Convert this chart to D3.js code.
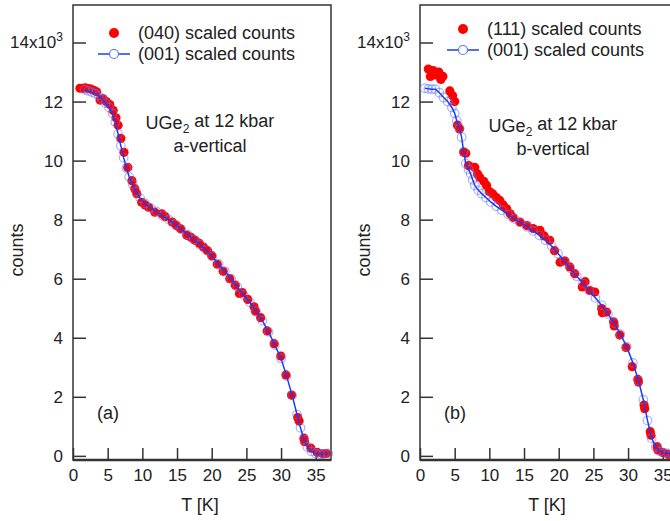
<!DOCTYPE html>
<html>
<head>
<meta charset="utf-8">
<script src="https://cdn.jsdelivr.net/npm/d3@7"></script>
<style>
  body { margin: 0; background: #fff; }
  text { font-family: "Liberation Sans", Arial, Helvetica, sans-serif; fill: #222; }
</style>
</head>
<body>
<svg id="chart" width="670" height="521"></svg>
<script>
// panel (a): (040) and (001), counts in units of 1000
const redA_T = [1.0, 1.4, 1.8, 2.2, 2.6, 3.0, 3.4, 3.9, 4.3, 4.8, 5.3, 5.8, 6.2, 6.5, 6.9, 7.35, 7.9, 8.5, 8.9, 9.2, 9.9, 10.4, 10.9, 11.8, 12.8, 13.3, 14.3, 14.9, 15.5, 16.4, 17.0, 17.6, 18.2, 18.8, 19.4, 20.0, 20.8, 21.65, 22.6, 23.4, 24.0, 24.4, 25.2, 26.1, 26.3, 27.06, 28.0, 29.0, 29.96, 30.7, 31.5, 32.4, 32.6, 33.3, 33.4, 34.3, 35.2, 36.0, 36.5]
const redA_C = [12.45, 12.45, 12.46, 12.44, 12.42, 12.38, 12.33, 12.05, 12.1, 12.0, 11.9, 11.7, 11.45, 11.2, 10.75, 10.28, 9.77, 9.32, 9.05, 8.88, 8.59, 8.5, 8.42, 8.25, 8.2, 8.1, 7.92, 7.8, 7.69, 7.47, 7.4, 7.3, 7.2, 7.07, 6.95, 6.78, 6.49, 6.25, 6.0, 5.78, 5.5, 5.53, 5.3, 5.05, 4.9, 4.68, 4.23, 3.8, 3.38, 2.74, 2.06, 1.3, 1.18, 0.6, 0.48, 0.26, 0.12, 0.07, 0.08]
const blueA_T = [1.7, 2.2, 2.7, 3.2, 3.7, 4.2, 4.7, 5.2, 5.7, 6.1, 6.5, 6.9, 7.3, 7.7, 8.1, 8.6, 9.1, 9.7, 10.4, 11.2, 12.0, 12.9, 13.8, 14.7, 15.6, 16.5, 17.4, 18.3, 19.2, 20.1, 21.0, 21.9, 22.8, 23.7, 24.6, 25.5, 26.4, 27.3, 28.2, 29.1, 30.0, 30.8, 31.6, 32.3, 32.8, 33.3, 33.8, 34.4, 35.0, 35.6, 36.2, 36.8]
const blueA_C = [12.4, 12.36, 12.32, 12.27, 12.2, 12.08, 11.95, 11.8, 11.6, 11.3, 10.9, 10.5, 10.1, 9.75, 9.45, 9.2, 8.95, 8.72, 8.55, 8.4, 8.28, 8.13, 8.0, 7.85, 7.68, 7.5, 7.33, 7.15, 6.97, 6.75, 6.5, 6.25, 6.0, 5.72, 5.45, 5.2, 4.9, 4.58, 4.2, 3.75, 3.3, 2.7, 2.05, 1.4, 0.95, 0.55, 0.3, 0.15, 0.08, 0.06, 0.07, 0.08]

// panel (b): (111) and (001)
const redB_T = [1.2, 1.5, 1.9, 2.3, 2.7, 3.0, 3.3, 4.3, 4.7, 5.0, 5.4, 5.7, 6.3, 6.6, 7.0, 7.9, 8.3, 8.6, 9.2, 9.6, 10.0, 10.5, 11.0, 11.5, 12.0, 12.5, 13.0, 13.4, 14.4, 15.4, 16.3, 17.3, 17.9, 18.7, 19.4, 20.2, 20.9, 21.6, 22.3, 23.4, 23.8, 24.5, 25.2, 26.2, 26.3, 26.9, 27.9, 28.0, 28.8, 29.7, 30.6, 31.4, 31.5, 32.3, 32.4, 33.2, 33.3, 34.2, 34.3, 35.0, 35.8, 36.5]
const redB_C = [13.1, 12.85, 13.05, 12.9, 13.0, 12.75, 12.85, 12.36, 12.2, 12.0, 11.2, 11.07, 10.28, 10.25, 9.83, 9.77, 9.55, 9.44, 9.3, 9.16, 8.95, 8.87, 8.75, 8.65, 8.5, 8.37, 8.2, 8.08, 7.92, 7.8, 7.7, 7.64, 7.45, 7.3, 6.95, 6.56, 6.6, 6.4, 6.17, 5.72, 5.9, 5.6, 5.55, 4.99, 4.85, 4.87, 4.54, 4.4, 4.09, 3.67, 3.02, 2.59, 2.5, 1.72, 1.6, 0.82, 0.7, 0.31, 0.2, 0.11, 0.05, 0.05]
const blueB_T = [0.7, 1.2, 1.7, 2.2, 2.8, 3.4, 4.0, 4.6, 5.0, 5.3, 5.7, 6.0, 6.3, 6.6, 7.0, 7.3, 7.6, 7.9, 8.4, 8.9, 9.5, 10.2, 11.0, 11.8, 12.7, 13.6, 14.5, 15.4, 16.3, 17.2, 18.1, 19.0, 19.9, 20.8, 21.7, 22.6, 23.5, 24.4, 25.3, 26.2, 27.1, 28.0, 28.9, 29.8, 30.7, 31.5, 32.2, 32.8, 33.4, 34.0, 34.6, 35.2, 35.8, 36.4]
const blueB_C = [12.45, 12.43, 12.42, 12.42, 12.3, 12.14, 12.0, 11.8, 11.6, 11.35, 11.1, 10.79, 10.3, 9.9, 9.7, 9.55, 9.35, 9.16, 9.0, 8.88, 8.75, 8.6, 8.45, 8.32, 8.18, 8.03, 7.9, 7.76, 7.62, 7.47, 7.3, 7.1, 6.85, 6.6, 6.35, 6.08, 5.85, 5.6, 5.35, 5.1, 4.8, 4.5, 4.12, 3.7, 3.15, 2.55, 1.9, 1.2, 0.6, 0.3, 0.15, 0.1, 0.08, 0.07]

const xTicks = [0, 5, 10, 15, 20, 25, 30, 35]
const yTicks = [0, 2, 4, 6, 8, 10, 12, 14]

const svg = d3.select("#chart")

function drawPanel(left, cfg) {
    const width = 258
    const top = 5, bottom = 460

    const x = d3.scaleLinear().domain([0, 37.2]).range([left, left + width])
    const y = d3.scaleLinear().domain([-0.14, 15.27]).range([bottom, top])

    const g = svg.append("g")

    // ticks inside the frame
    const xAxis = g.append("g")
        .attr("transform", "translate(0," + bottom + ")")
        .call(d3.axisBottom(x).tickValues(xTicks).tickSizeInner(-12).tickSizeOuter(0).tickPadding(9))
    xAxis.select(".domain").remove()
    xAxis.selectAll("text").style("font-size", "17px").attr("fill", "#222")

    const yAxis = g.append("g")
        .attr("transform", "translate(" + left + ",0)")
        .call(d3.axisLeft(y).tickValues(yTicks).tickSizeInner(-13).tickSizeOuter(0).tickPadding(10))
    yAxis.select(".domain").remove()
    yAxis.selectAll("text").style("font-size", "17px").attr("fill", "#222")
        .each(function(d) {
            if (d === 14) {
                const t = d3.select(this).text("14x10")
                t.append("tspan").attr("dy", "-0.6em").style("font-size", "12px").text("3")
            }
        })
    g.selectAll(".tick line").attr("stroke", "#333").attr("stroke-width", 1.5)

    // frame
    g.append("rect")
        .attr("x", left).attr("y", top)
        .attr("width", width).attr("height", bottom - top)
        .attr("fill", "none").attr("stroke", "#333").attr("stroke-width", 1.5)
    g.append("line")
        .attr("x1", left).attr("x2", left + width)
        .attr("y1", bottom).attr("y2", bottom)
        .attr("stroke", "#333").attr("stroke-width", 2.5)

    // data
    const red = cfg.redT.map((t, i) => [t, cfg.redC[i]])
    const blue = cfg.blueT.map((t, i) => [t, cfg.blueC[i]])

    g.selectAll(".red").data(red).enter().append("circle")
        .attr("cx", d => x(d[0])).attr("cy", d => y(d[1]))
        .attr("r", 4.6).attr("fill", "#f00")

    g.selectAll(".blue").data(blue).enter().append("circle")
        .attr("cx", d => x(d[0])).attr("cy", d => y(d[1]))
        .attr("r", 4.3).attr("fill", "none")
        .attr("stroke", "#5a78ff").attr("stroke-opacity", 0.55).attr("stroke-width", 1.2)

    g.append("path").datum(blue)
        .attr("d", d3.line().x(d => x(d[0])).y(d => y(d[1])))
        .attr("fill", "none").attr("stroke", "#1f3cf5").attr("stroke-width", 1.5)

    // legend
    const lx = cfg.legendX, ly = cfg.legendY
    g.append("circle").attr("cx", lx).attr("cy", ly).attr("r", 5).attr("fill", "#f00")
    g.append("text").attr("x", lx + 24).attr("y", ly + 6).style("font-size", "18px").text(cfg.redLabel)
    g.append("line").attr("x1", lx - 16).attr("x2", lx + 16).attr("y1", ly + 21).attr("y2", ly + 21)
        .attr("stroke", "#1f3cf5").attr("stroke-width", 1.5)
    g.append("circle").attr("cx", lx).attr("cy", ly + 21).attr("r", 4.5)
        .attr("fill", "#fff").attr("stroke", "#5a78ff").attr("stroke-width", 1.2)
    g.append("text").attr("x", lx + 24).attr("y", ly + 27).style("font-size", "18px").text("(001) scaled counts")

    // annotation
    const ann = g.append("text").attr("x", cfg.annX).attr("y", cfg.annY)
        .attr("text-anchor", "middle").style("font-size", "18px")
    ann.append("tspan").text("UGe")
    ann.append("tspan").attr("dy", "0.3em").style("font-size", "12px").text("2")
    ann.append("tspan").attr("dy", "-0.3em").text(" at 12 kbar")
    g.append("text").attr("x", cfg.annX).attr("y", cfg.annY + 23)
        .attr("text-anchor", "middle").style("font-size", "18px").text(cfg.orient)

    g.append("text").attr("x", left + 24).attr("y", 419).style("font-size", "18px").text(cfg.tag)

    // axis titles
    g.append("text").attr("x", left + 127).attr("y", 511)
        .attr("text-anchor", "middle").style("font-size", "18px").text("T [K]")
    g.append("text")
        .attr("transform", "translate(" + (left - 50) + ",250) rotate(-90)")
        .attr("text-anchor", "middle").style("font-size", "18px").text("counts")
}

drawPanel(73, {
    redT: redA_T, redC: redA_C, blueT: blueA_T, blueC: blueA_C,
    redLabel: "(040) scaled counts", legendX: 114, legendY: 33,
    annX: 210, annY: 129, orient: "a-vertical", tag: "(a)"
})
drawPanel(420, {
    redT: redB_T, redC: redB_C, blueT: blueB_T, blueC: blueB_C,
    redLabel: "(111) scaled counts", legendX: 463, legendY: 29,
    annX: 553, annY: 132, orient: "b-vertical", tag: "(b)"
})
</script>
</body>
</html>
